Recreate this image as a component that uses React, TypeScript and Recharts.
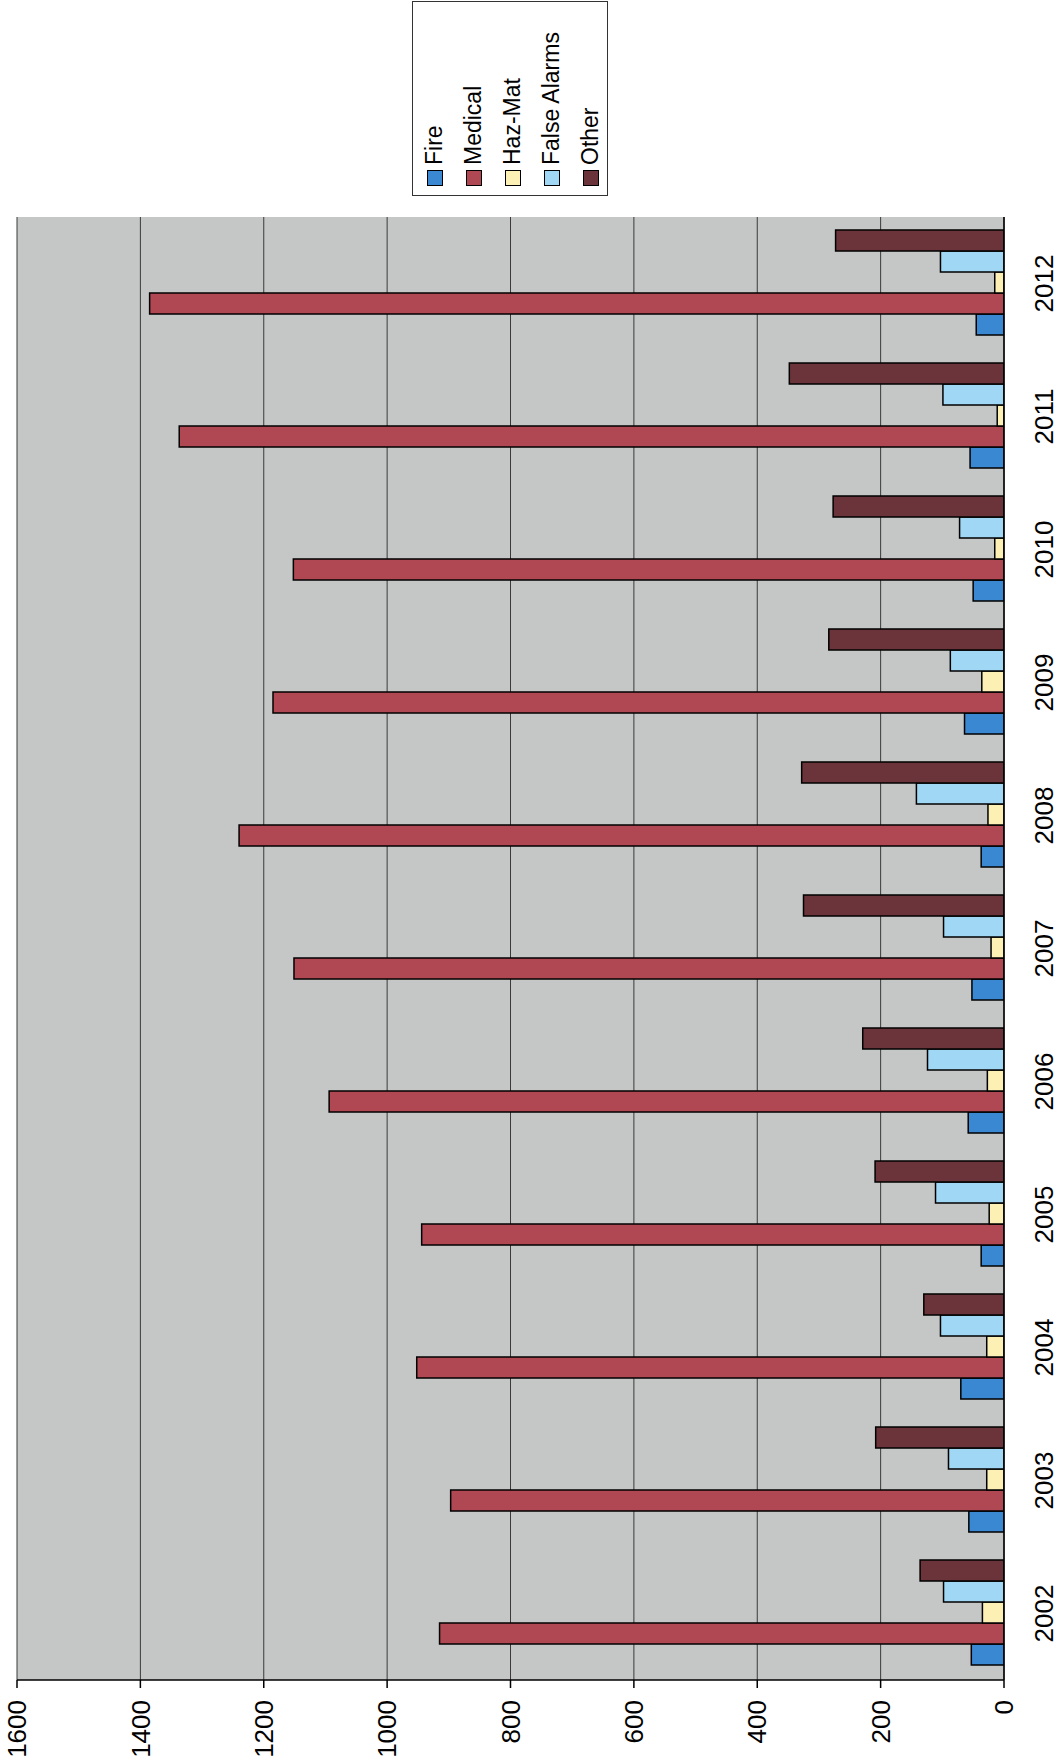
import React from 'react';
import {
  BarChart, Bar, XAxis, YAxis, CartesianGrid, Legend, ReferenceLine,
} from 'recharts';

// values (calls per year)
const years = ['2002', '2003', '2004', '2005', '2006', '2007', '2008', '2009', '2010', '2011', '2012'];
const fire = [53, 57, 70, 37, 58, 52, 37, 64, 50, 55, 45];
const medical = [915, 897, 952, 944, 1094, 1151, 1240, 1185, 1152, 1337, 1385];
const hazMat = [35, 28, 28, 24, 27, 21, 26, 36, 15, 11, 15];
const falseAlarms = [98, 90, 103, 111, 124, 98, 142, 87, 72, 99, 103];
const other = [136, 208, 130, 209, 229, 325, 328, 284, 277, 348, 273];
const valueTicks = [0, 200, 400, 600, 800, 1000, 1200, 1400, 1600];

const series = [
  { key: 'fire', name: 'Fire', color: '#3a87d2' },
  { key: 'medical', name: 'Medical', color: '#b04854' },
  { key: 'hazMat', name: 'Haz-Mat', color: '#fcf0b4' },
  { key: 'falseAlarms', name: 'False Alarms', color: '#a0d7f5' },
  { key: 'other', name: 'Other', color: '#6b343a' },
];

const rows = years.map((year, i) => ({
  year,
  fire: fire[i],
  medical: medical[i],
  hazMat: hazMat[i],
  falseAlarms: falseAlarms[i],
  other: other[i],
}));

// category boundaries for the between-category tick marks
const edgeTicks = [...years.map((_, i) => i), years.length];

const CHART_W = 1764;
const CHART_H = 1062;

function LegendBox({ payload }: any) {
  // keep series order (recharts sorts legend items by name otherwise)
  const items = [...(payload || [])].sort(
    (a: any, b: any) =>
      series.findIndex((s) => s.name === a.value) - series.findIndex((s) => s.name === b.value),
  );
  return (
    <div
      style={{
        width: 195,
        height: 196,
        boxSizing: 'border-box',
        border: '1px solid #333',
        background: '#fff',
        paddingTop: 2,
      }}
    >
      {items.map((entry: any) => {
        const s = series.find((x) => x.name === entry.value);
        return (
          <div
            key={entry.value}
            style={{ height: 39, display: 'flex', alignItems: 'center', paddingLeft: 9 }}
          >
            <span
              style={{
                width: 14,
                height: 14,
                border: '1px solid #000',
                background: s ? s.color : entry.color,
                marginRight: 5,
                flex: 'none',
              }}
            />
            <span style={{ fontSize: 23, color: '#000', whiteSpace: 'nowrap' }}>{entry.value}</span>
          </div>
        );
      })}
    </div>
  );
}

export default function App() {
  return (
    <div
      style={{
        position: 'absolute',
        top: 0,
        left: 0,
        width: 1062,
        height: 1764,
        overflow: 'hidden',
        background: '#fff',
        fontFamily: "'Liberation Sans', Arial, sans-serif",
      }}
    >
      {/* the scanned page is turned a quarter, so draw upright and rotate */}
      <div
        style={{
          width: CHART_W,
          height: CHART_H,
          transformOrigin: '0 0',
          transform: `translateY(${CHART_W}px) rotate(-90deg)`,
        }}
      >
        <BarChart
          width={CHART_W}
          height={CHART_H}
          data={rows}
          margin={{ top: 17, right: 217, bottom: 0, left: 0 }}
          barCategoryGap="11.3%"
          barGap={0}
        >
          <CartesianGrid vertical={false} stroke="#3a3a3a" fill="#c5c6c6" />
          <XAxis
            dataKey="year"
            height={58}
            interval={0}
            tickLine={false}
            tickSize={6}
            tickMargin={25}
            axisLine={{ stroke: '#000', strokeWidth: 1.5 }}
            tick={{ fontSize: 26, fill: '#000' }}
          />
          <XAxis
            xAxisId="edges"
            type="number"
            domain={[0, years.length]}
            ticks={edgeTicks}
            allowDataOverflow
            mirror
            height={0}
            tick={false}
            axisLine={false}
            tickSize={-7}
            tickLine={{ stroke: '#000', strokeWidth: 1.5 }}
          />
          <YAxis
            domain={[0, 1600]}
            ticks={valueTicks}
            interval={0}
            allowDataOverflow
            width={84}
            tickSize={8}
            tickMargin={12}
            axisLine={{ stroke: '#000', strokeWidth: 1.5 }}
            tickLine={{ stroke: '#000', strokeWidth: 1.5 }}
            tick={{ fontSize: 26, fill: '#000' }}
          />
          <ReferenceLine xAxisId="edges" x={years.length} stroke="#777" strokeWidth={1.5} />
          <Legend
            layout="vertical"
            align="center"
            verticalAlign="middle"
            wrapperStyle={{ left: 1568, top: 412, width: 195, height: 196 }}
            content={<LegendBox />}
          />
          {series.map((s) => (
            <Bar
              key={s.key}
              dataKey={s.key}
              name={s.name}
              fill={s.color}
              stroke="#000"
              strokeWidth={1.5}
              isAnimationActive={false}
            />
          ))}
        </BarChart>
      </div>
    </div>
  );
}
